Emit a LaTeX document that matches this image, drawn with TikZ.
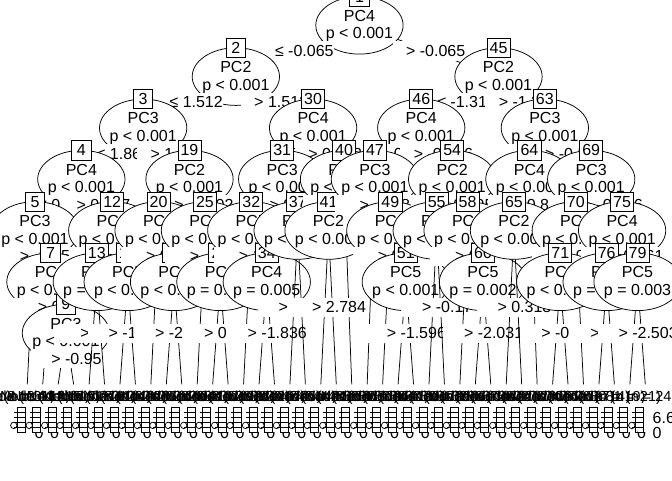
\documentclass[tikz,border=0pt]{standalone}
\usepackage{fontspec}
\setmainfont{Liberation Sans}
\usetikzlibrary{shapes.geometric,calc}
\newcommand{\MkN}[3]{\coordinate (n#1) at ({19.55+15.45*#2},{25.3+51.3*#3});}
\newcommand{\MkT}[2]{\coordinate (t#1) at ({11.825+15.45*#2},384.4);}
\newcommand{\IN}[3]{%
  \node[ell] (e#1) at (n#1) {};
  \node[ntxt] (v#1) at ([yshift=9.6pt]n#1) {#2};
  \node[ntxt] (p#1) at ([yshift=-9.6pt]n#1) {#3};
  \node[idbox] (b#1) at ([yshift=28.8pt]n#1) {#1};}
\newcommand{\EL}[5]{%
  \path let \p1=($(#2)!0.5!(#3)$) in node[elab] (#1) at (\x1,-#4pt) {\phantom{0} #5};}
\newcommand{\PN}[7]{%
  \draw[edge] (n#1) -- (#5);
  \draw[edge] (n#1) -- (#6);
  \IN{#1}{#2}{#3}
  \EL{la#1}{n#1}{#5}{#7}{≤ #4}
  \EL{lb#1}{n#1}{#6}{#7}{> #4}}
\newcommand{\TP}[2]{%
  \begin{scope}[shift={(t#1)}]
    \fill[white] (-7.725,19) rectangle (7.725,48);
    \node[thead] (h#1) at (-23.5,13.6) {Node #1 (n = #2)};
    \draw[edge] (-10,22.6) rectangle (-2,47.6);
    \draw[edge] (-13,27.5) -- (-2,27.5) (-13,32.5) -- (-2,32.5)
                (-13,37.5) -- (-2,37.5) (-13,42.5) -- (-2,42.5);
    \draw[edge] (-13.5,41) circle[radius=3.2];
    \node[alab] (z#1) at (7.2,49) {0};
  \end{scope}}
\begin{document}
\begin{tikzpicture}[x=1pt,y=-1pt,
  edge/.style={line width=0.75pt},
  ell/.style={ellipse,draw,fill=white,line width=0.75pt,minimum width=87.3pt,minimum height=57.6pt,inner sep=0pt},
  ntxt/.style={inner sep=0pt,font=\fontsize{16pt}{19.2pt}\selectfont},
  idbox/.style={draw,fill=white,line width=0.75pt,minimum width=19.2pt,minimum height=19.2pt,inner xsep=2.65pt,inner ysep=0pt,font=\fontsize{16pt}{19.2pt}\selectfont},
  elab/.style={fill=white,inner sep=0pt,minimum height=19.2pt,font=\fontsize{16pt}{19.2pt}\selectfont},
  thead/.style={inner sep=0pt,font=\fontsize{14.5pt}{17pt}\selectfont},
  alab/.style={inner sep=0pt,anchor=west,font=\fontsize{16pt}{19.2pt}\selectfont}]
\useasboundingbox (0,0) rectangle (672,480);
\clip (0,0) rectangle (672,480);
\fill[white] (0,0) rectangle (672,480);
% inner node positions
\MkN{1}{22}{0}
\MkN{2}{14}{1}\MkN{45}{31}{1}
\MkN{3}{8}{2}\MkN{30}{19}{2}\MkN{46}{26}{2}\MkN{63}{34}{2}
\MkN{4}{4}{3}\MkN{19}{11}{3}\MkN{31}{17}{3}\MkN{40}{21}{3}\MkN{47}{23}{3}\MkN{54}{28}{3}\MkN{64}{33}{3}\MkN{69}{37}{3}
\MkN{5}{1}{4}\MkN{12}{6}{4}\MkN{20}{9}{4}\MkN{25}{12}{4}\MkN{32}{15}{4}\MkN{37}{18}{4}\MkN{41}{20}{4}
\MkN{49}{24}{4}\MkN{55}{27}{4}\MkN{58}{29}{4}\MkN{65}{32}{4}\MkN{70}{36}{4}\MkN{75}{39}{4}
\MkN{7}{2}{5}\MkN{13}{5}{5}\MkN{16}{7}{5}\MkN{22}{10}{5}\MkN{27}{13}{5}\MkN{34}{16}{5}
\MkN{51}{25}{5}\MkN{60}{30}{5}\MkN{71}{35}{5}\MkN{76}{38}{5}\MkN{79}{40}{5}
\MkN{9}{3}{6}
% terminal positions
\MkT{6}{1}\MkT{8}{2}\MkT{10}{3}\MkT{11}{4}\MkT{14}{5}\MkT{15}{6}\MkT{17}{7}\MkT{18}{8}
\MkT{21}{9}\MkT{23}{10}\MkT{24}{11}\MkT{26}{12}\MkT{28}{13}\MkT{29}{14}\MkT{33}{15}\MkT{35}{16}
\MkT{36}{17}\MkT{38}{18}\MkT{39}{19}\MkT{42}{20}\MkT{43}{21}\MkT{44}{22}\MkT{48}{23}\MkT{50}{24}
\MkT{52}{25}\MkT{53}{26}\MkT{56}{27}\MkT{57}{28}\MkT{59}{29}\MkT{61}{30}\MkT{62}{31}\MkT{66}{32}
\MkT{67}{33}\MkT{68}{34}\MkT{72}{35}\MkT{73}{36}\MkT{74}{37}\MkT{77}{38}\MkT{78}{39}\MkT{80}{40}\MkT{81}{41}
% drawing in recursive order
\PN{1}{PC4}{p < 0.001}{-0.065}{n2}{n45}{50.95}
\PN{2}{PC2}{p < 0.001}{1.512}{n3}{n30}{102.25}
\PN{3}{PC3}{p < 0.001}{1.86}{n4}{n19}{153.55}
\PN{4}{PC4}{p < 0.001}{0.437}{n5}{n12}{204.85}
\PN{5}{PC3}{p < 0.001}{-0.752}{t6}{n7}{256.15}
\TP{6}{31}
\PN{7}{PC1}{p < 0.001}{0.129}{t8}{n9}{307.45}
\TP{8}{12}
\PN{9}{PC3}{p < 0.001}{-0.95}{t10}{t11}{358.75}
\TP{10}{18}\TP{11}{9}
\PN{12}{PC2}{p < 0.001}{-0.217}{n13}{n16}{256.15}
\PN{13}{PC2}{p = 0.004}{0.627}{t14}{t15}{333.1}
\TP{14}{27}\TP{15}{11}
\PN{16}{PC5}{p < 0.001}{-1.143}{t17}{t18}{333.1}
\TP{17}{14}\TP{18}{22}
\PN{19}{PC2}{p < 0.001}{-0.302}{n20}{n25}{204.85}
\PN{20}{PC1}{p < 0.001}{0.391}{t21}{n22}{256.15}
\TP{21}{35}
\PN{22}{PC4}{p < 0.001}{-2.058}{t23}{t24}{333.1}
\TP{23}{16}\TP{24}{10}
\PN{25}{PC3}{p < 0.001}{-0.623}{t26}{n27}{256.15}
\TP{26}{41}
\PN{27}{PC1}{p = 0.012}{0.473}{t28}{t29}{333.1}
\TP{28}{13}\TP{29}{19}
\PN{30}{PC4}{p < 0.001}{0.782}{n31}{n40}{153.55}
\PN{31}{PC3}{p < 0.001}{0.654}{n32}{n37}{204.85}
\PN{32}{PC5}{p < 0.001}{1.044}{t33}{n34}{256.15}
\TP{33}{28}
\PN{34}{PC4}{p = 0.005}{-1.836}{t35}{t36}{333.1}
\TP{35}{12}\TP{36}{17}
\PN{37}{PC1}{p < 0.001}{-0.108}{t38}{t39}{307.45}
\TP{38}{25}\TP{39}{14}
\PN{40}{PC1}{p < 0.001}{1.173}{n41}{t44}{204.85}
\PN{41}{PC2}{p < 0.001}{2.784}{t42}{t43}{307.45}
\TP{42}{21}\TP{43}{15}
\TP{44}{38}
\PN{45}{PC2}{p < 0.001}{-1.314}{n46}{n63}{102.25}
\PN{46}{PC4}{p < 0.001}{-0.466}{n47}{n54}{153.55}
\PN{47}{PC3}{p < 0.001}{-0.881}{t48}{n49}{204.85}
\TP{48}{33}
\PN{49}{PC1}{p < 0.001}{0.205}{t50}{n51}{256.15}
\TP{50}{26}
\PN{51}{PC5}{p < 0.001}{-1.596}{t52}{t53}{333.1}
\TP{52}{11}\TP{53}{20}
\PN{54}{PC2}{p < 0.001}{0.095}{n55}{n58}{204.85}
\PN{55}{PC5}{p < 0.001}{-0.17}{t56}{t57}{307.45}
\TP{56}{17}\TP{57}{29}
\PN{58}{PC3}{p < 0.001}{0.764}{t59}{n60}{256.15}
\TP{59}{36}
\PN{60}{PC5}{p = 0.002}{-2.031}{t61}{t62}{333.1}
\TP{61}{13}\TP{62}{18}
\PN{63}{PC3}{p < 0.001}{-0.214}{n64}{n69}{153.55}
\PN{64}{PC4}{p < 0.001}{0.838}{n65}{t68}{204.85}
\PN{65}{PC2}{p < 0.001}{0.318}{t66}{t67}{307.45}
\TP{66}{22}\TP{67}{12}
\TP{68}{30}
\PN{69}{PC3}{p < 0.001}{-0.536}{n70}{n75}{204.85}
\PN{70}{PC1}{p < 0.001}{-0.927}{n71}{t74}{256.15}
\PN{71}{PC3}{p < 0.001}{-0.392}{t72}{t73}{333.1}
\TP{72}{16}\TP{73}{23}
\TP{74}{27}
\PN{75}{PC4}{p < 0.001}{0.561}{n76}{n79}{256.15}
\PN{76}{PC2}{p = 0.021}{1.275}{t77}{t78}{333.1}
\TP{77}{14}\TP{78}{19}
\PN{79}{PC5}{p = 0.003}{-2.503}{t80}{t81}{333.1}
\TP{80}{21}\TP{81}{24}
\node[alab] (z81b) at ($(t81)+(7.2,34)$) {6.6};
\end{tikzpicture}
\end{document}
